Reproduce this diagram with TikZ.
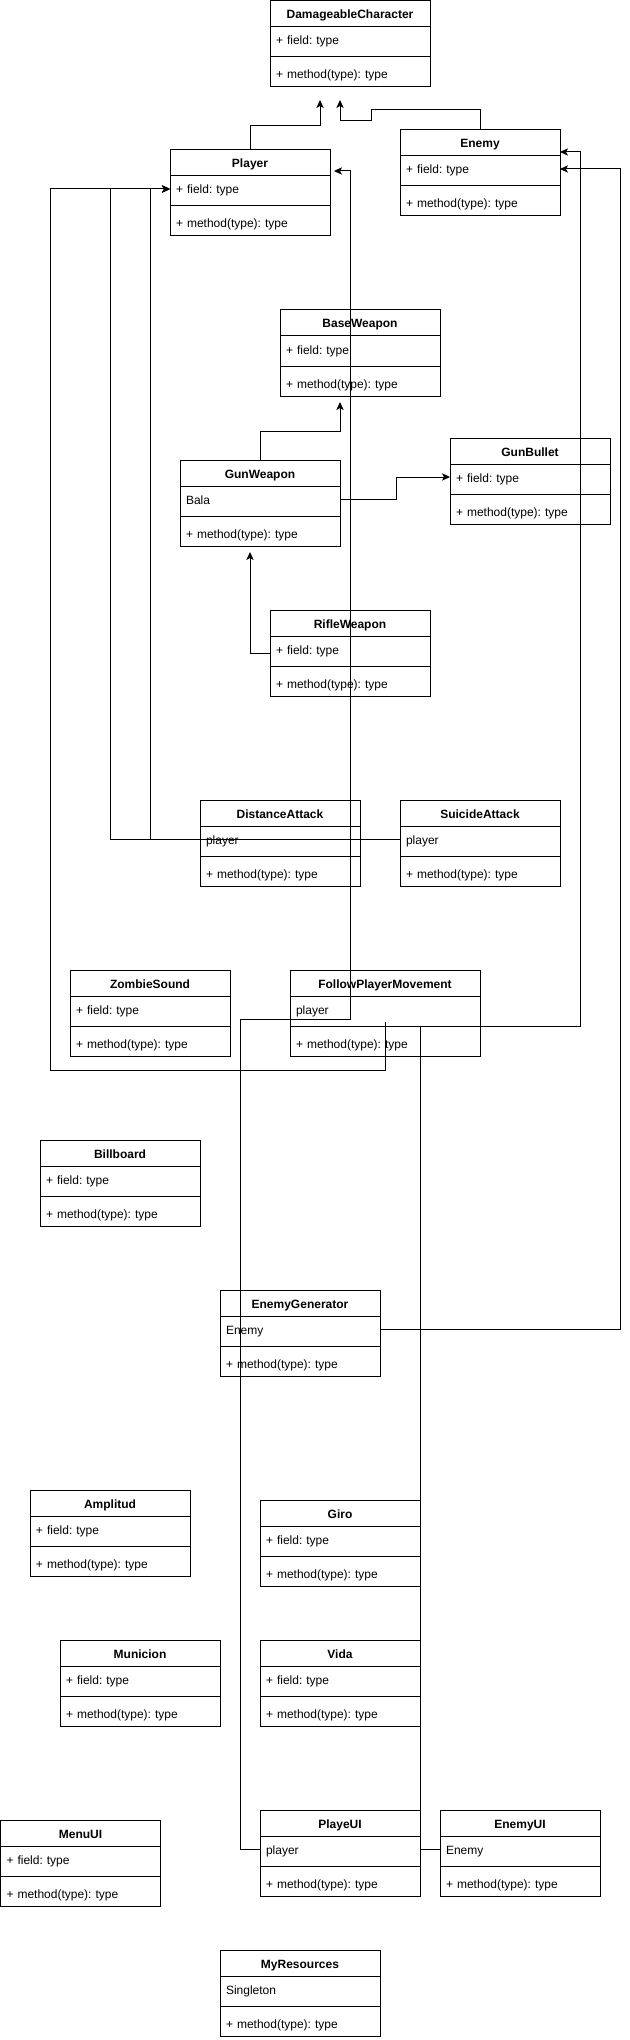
\documentclass[tikz,border=0pt]{standalone}
\usepackage{fontspec}
\setmainfont{Liberation Sans}
\usetikzlibrary{calc,arrows.meta}
\frenchspacing
\tikzset{
  clsbox/.style={draw=black, fill=white, line width=0.75pt, minimum height=64.5pt, inner sep=0pt, outer sep=0pt, anchor=north west},
  clstitle/.style={anchor=north, minimum height=19.5pt, inner sep=0pt, outer sep=0pt, text height=7.5pt, text depth=0pt, font=\fontsize{9pt}{11pt}\selectfont\bfseries, align=center},
  clsrow/.style={anchor=west, inner xsep=4.5pt, inner ysep=0pt, outer sep=0pt, minimum height=19.5pt, text height=7.5pt, text depth=0pt, font=\fontsize{9pt}{11pt}\selectfont, align=left},
  clsline/.style={line width=0.75pt},
  conn/.style={line width=0.75pt, line join=miter},
  arr/.style={conn, -{Stealth[length=6pt,width=5.5pt,inset=1.5pt]}},
}
\newcommand\umlclass[6]{%
  \pgfmathsetlengthmacro\clsw{(#4-12)*0.75pt}%
  \node[clsbox, minimum width=#4*0.75pt] (#1) at (#2,#3) {};
  \node[clstitle, text width=\clsw] (#1-t) at (#1.north) {\frenchspacing #5};
  \draw[clsline] ($(#1.north west)+(0,26)$) -- ($(#1.north east)+(0,26)$);
  \node[clsrow, text width=\clsw] (#1-f) at ($(#1.north west)+(0,39)$) {\frenchspacing #6};
  \draw[clsline] ($(#1.north west)+(0,56)$) -- ($(#1.north east)+(0,56)$);
  \node[clsrow, text width=\clsw] (#1-m) at ($(#1.north west)+(0,73)$) {\frenchspacing + method(type): type};
}
\begin{document}
\begin{tikzpicture}[x=0.75pt,y=-0.75pt]
\useasboundingbox (0,0) rectangle (630,2040);
% classes
\umlclass{dc}{270}{0.5}{160}{DamageableCharacter}{+ field: type}
\umlclass{player}{170}{150}{160}{Player}{+ field: type}
\umlclass{enemy}{400}{130}{160}{Enemy}{+ field: type}
\umlclass{baseweapon}{280}{310}{160}{BaseWeapon}{+ field: type}
\umlclass{gunbullet}{450}{438}{160}{GunBullet}{+ field: type}
\umlclass{gunweapon}{180}{460}{160}{GunWeapon}{Bala}
\umlclass{rifle}{270}{610}{160}{RifleWeapon}{+ field: type}
\umlclass{distance}{200}{800}{160}{DistanceAttack}{player}
\umlclass{suicide}{400}{800}{160}{SuicideAttack}{player}
\umlclass{zombie}{70}{970}{160}{ZombieSound}{+ field: type}
\umlclass{fpm}{290}{970}{190}{FollowPlayerMovement}{player}
\umlclass{billboard}{40}{1140}{160}{Billboard}{+ field: type}
\umlclass{enemygen}{220}{1290}{160}{EnemyGenerator}{Enemy}
\umlclass{amplitud}{30}{1490}{160}{Amplitud}{+ field: type}
\umlclass{giro}{260}{1500}{160}{Giro}{+ field: type}
\umlclass{municion}{60}{1640}{160}{Municion}{+ field: type}
\umlclass{vida}{260}{1640}{160}{Vida}{+ field: type}
\umlclass{menuui}{0.5}{1820}{160}{MenuUI}{+ field: type}
\umlclass{playeui}{260}{1810}{160}{PlayeUI}{player}
\umlclass{enemyui}{440}{1810}{160}{EnemyUI}{Enemy}
\umlclass{myres}{220}{1950}{160}{MyResources}{Singleton}
% free ends and start points
\coordinate (dc-in1) at (320,100);
\coordinate (dc-in2) at (340,100);
\coordinate (pl-in) at (334,171);
\coordinate (en-in1) at ($(enemy.north east)+(0,22)$);
\coordinate (bw-in) at (340,402);
\coordinate (gw-in) at (250,552);
\coordinate (rifle-out) at ($(rifle.north west)+(0,43)$);
% connectors
\draw[arr] (player.north) -- (250,126) -- (320,126) -- (dc-in1);
\draw[arr] (enemy.north) -- (480,110) -- (371,110) -- (371,121) -- (340,121) -- (dc-in2);
\draw[arr] (playeui-f.west) -- (240,1849) -- (240,1019) -- (350,1019) -- (350,171) -- (pl-in);
\draw[arr] (distance-f.west) -- (150,839) -- (150,189) -- (player-f.west);
\draw[arr] (suicide-f.west) -- (110,839) -- (110,189) -- (player-f.west);
\draw[arr] (fpm-f.south) -- (385,1070) -- (50,1070) -- (50,189) -- (player-f.west);
\draw[arr] (enemyui-f.west) -- (420,1849) -- (420,1026) -- (580,1026) -- (580,152) -- (en-in1);
\draw[arr] (enemygen-f.east) -- (620,1329) -- (620,169) -- (enemy-f.east);
\draw[arr] (gunweapon.north) -- (260,431) -- (340,431) -- (bw-in);
\draw[arr] (gunweapon-f.east) -- (396,499) -- (396,477) -- (gunbullet-f.west);
\draw[arr] (rifle-out) -- (250,653) -- (gw-in);
\end{tikzpicture}
\end{document}
